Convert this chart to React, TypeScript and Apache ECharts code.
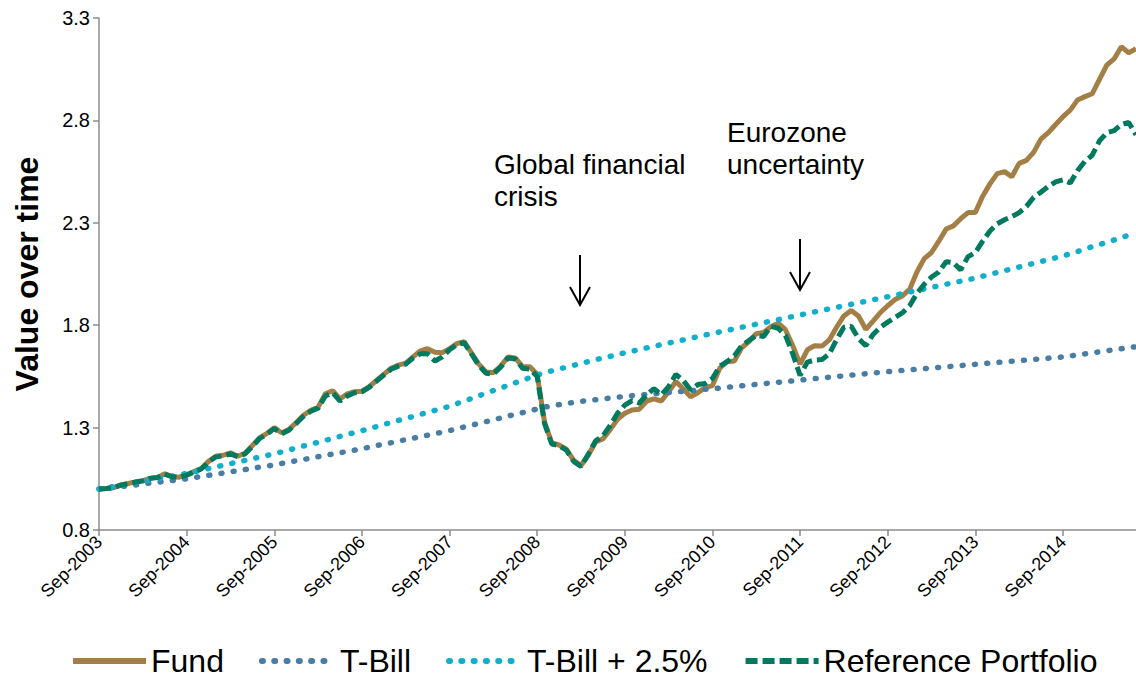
import React, { useEffect, useRef } from 'react';
import * as echarts from 'echarts';

const FONT = '"Liberation Sans", Arial, Helvetica, sans-serif';

const monthNames = ['Jan', 'Feb', 'Mar', 'Apr', 'May', 'Jun', 'Jul', 'Aug', 'Sep', 'Oct', 'Nov', 'Dec'];

const fund = [
  1.000, 1.003, 1.007, 1.020, 1.027, 1.035, 1.040, 1.053, 1.057, 1.075, 1.060, 1.058, 1.070,
  1.085, 1.100, 1.135, 1.160, 1.165, 1.177, 1.160, 1.175, 1.213, 1.250, 1.272, 1.300,
  1.275, 1.290, 1.325, 1.360, 1.385, 1.400, 1.465, 1.480, 1.440, 1.465, 1.475, 1.478,
  1.500, 1.530, 1.560, 1.590, 1.605, 1.615, 1.645, 1.675, 1.685, 1.668, 1.666, 1.685,
  1.710, 1.720, 1.665, 1.610, 1.572, 1.568, 1.600, 1.645, 1.640, 1.598, 1.597, 1.560,
  1.330, 1.225, 1.215, 1.195, 1.140, 1.115, 1.165, 1.230, 1.245, 1.290, 1.340, 1.370,
  1.386, 1.390, 1.430, 1.440, 1.430, 1.475, 1.525, 1.490, 1.450, 1.470, 1.495, 1.505,
  1.590, 1.622, 1.625, 1.690, 1.720, 1.758, 1.765, 1.793, 1.810, 1.778, 1.700, 1.610,
  1.680, 1.700, 1.698, 1.728, 1.790, 1.845, 1.872, 1.845, 1.780, 1.820, 1.862, 1.895,
  1.925, 1.943, 1.975, 2.060, 2.125, 2.155, 2.210, 2.270, 2.285, 2.320, 2.350, 2.350,
  2.430, 2.490, 2.540, 2.550, 2.525, 2.590, 2.605, 2.645, 2.710, 2.740, 2.780, 2.818,
  2.850, 2.900, 2.916, 2.930, 3.000, 3.070, 3.100, 3.160, 3.130, 3.150,
];

const tBill = [
  1.000, 1.004, 1.008, 1.012, 1.016, 1.020, 1.025, 1.029, 1.033, 1.037, 1.041, 1.046, 1.050,
  1.056, 1.061, 1.067, 1.073, 1.078, 1.084, 1.090, 1.095, 1.101, 1.107, 1.112, 1.118,
  1.125, 1.131, 1.138, 1.144, 1.151, 1.158, 1.164, 1.171, 1.177, 1.184, 1.190, 1.197,
  1.204, 1.212, 1.219, 1.226, 1.234, 1.241, 1.248, 1.256, 1.263, 1.270, 1.278, 1.285,
  1.294, 1.303, 1.312, 1.320, 1.329, 1.338, 1.347, 1.356, 1.365, 1.373, 1.382, 1.391,
  1.400, 1.406, 1.412, 1.418, 1.423, 1.428, 1.432, 1.436, 1.440, 1.444, 1.448, 1.453,
  1.456, 1.459, 1.462, 1.465, 1.468, 1.471, 1.474, 1.477, 1.480, 1.483, 1.487, 1.490,
  1.493, 1.497, 1.500, 1.504, 1.507, 1.511, 1.514, 1.518, 1.521, 1.525, 1.528, 1.532,
  1.535, 1.539, 1.542, 1.546, 1.549, 1.553, 1.556, 1.559, 1.563, 1.566, 1.570, 1.573,
  1.576, 1.579, 1.582, 1.585, 1.588, 1.591, 1.594, 1.597, 1.600, 1.603, 1.606, 1.609,
  1.612, 1.615, 1.618, 1.621, 1.624, 1.627, 1.630, 1.633, 1.636, 1.639, 1.642, 1.645,
  1.650, 1.655, 1.660, 1.665, 1.670, 1.675, 1.680, 1.685, 1.690, 1.695,
];

const tBillPlus = [
  1.000, 1.006, 1.012, 1.019, 1.025, 1.031, 1.038, 1.044, 1.050, 1.057, 1.063, 1.070, 1.076,
  1.084, 1.092, 1.100, 1.108, 1.116, 1.124, 1.132, 1.140, 1.148, 1.156, 1.164, 1.172,
  1.181, 1.191, 1.200, 1.210, 1.219, 1.228, 1.238, 1.247, 1.257, 1.266, 1.276, 1.285,
  1.295, 1.305, 1.315, 1.325, 1.335, 1.345, 1.354, 1.364, 1.374, 1.384, 1.394, 1.404,
  1.417, 1.430, 1.442, 1.455, 1.468, 1.481, 1.493, 1.506, 1.519, 1.532, 1.544, 1.557,
  1.567, 1.577, 1.586, 1.595, 1.604, 1.613, 1.622, 1.631, 1.640, 1.648, 1.657, 1.665,
  1.673, 1.681, 1.689, 1.697, 1.705, 1.713, 1.720, 1.728, 1.736, 1.744, 1.752, 1.760,
  1.767, 1.775, 1.782, 1.790, 1.797, 1.805, 1.812, 1.820, 1.827, 1.835, 1.842, 1.850,
  1.857, 1.865, 1.872, 1.880, 1.887, 1.894, 1.902, 1.909, 1.917, 1.924, 1.932, 1.939,
  1.947, 1.954, 1.962, 1.969, 1.977, 1.985, 1.992, 2.000, 2.007, 2.015, 2.022, 2.030,
  2.039, 2.048, 2.057, 2.066, 2.075, 2.084, 2.093, 2.102, 2.111, 2.120, 2.129, 2.138,
  2.149, 2.160, 2.172, 2.183, 2.194, 2.205, 2.216, 2.228, 2.239, 2.250,
];

const reference = [
  1.000, 1.003, 1.007, 1.019, 1.026, 1.034, 1.040, 1.052, 1.056, 1.073, 1.060, 1.058, 1.068,
  1.083, 1.098, 1.132, 1.157, 1.162, 1.172, 1.158, 1.172, 1.208, 1.247, 1.268, 1.295,
  1.270, 1.287, 1.320, 1.355, 1.380, 1.395, 1.455, 1.470, 1.430, 1.455, 1.470, 1.475,
  1.497, 1.527, 1.557, 1.585, 1.600, 1.610, 1.640, 1.660, 1.660, 1.625, 1.645, 1.680,
  1.705, 1.715, 1.660, 1.605, 1.565, 1.562, 1.595, 1.640, 1.635, 1.590, 1.585, 1.550,
  1.320, 1.220, 1.212, 1.190, 1.135, 1.110, 1.170, 1.235, 1.260, 1.310, 1.370, 1.410,
  1.432, 1.420, 1.460, 1.490, 1.460, 1.500, 1.560, 1.530, 1.485, 1.510, 1.515, 1.540,
  1.600, 1.622, 1.650, 1.700, 1.725, 1.750, 1.745, 1.795, 1.785, 1.750, 1.660, 1.555,
  1.620, 1.630, 1.632, 1.660, 1.730, 1.790, 1.795, 1.735, 1.700, 1.755, 1.790, 1.815,
  1.838, 1.860, 1.895, 1.955, 2.000, 2.035, 2.060, 2.110, 2.105, 2.070, 2.135, 2.155,
  2.210, 2.260, 2.295, 2.315, 2.330, 2.350, 2.380, 2.425, 2.450, 2.478, 2.500, 2.510,
  2.495, 2.555, 2.600, 2.630, 2.700, 2.740, 2.750, 2.780, 2.790, 2.730,
];

const startYear = 2003;
const startMonthIndex = 8; // September
const categories: string[] = fund.map((_, i) => {
  const m = startMonthIndex + i;
  return `${monthNames[m % 12]}-${startYear + Math.floor(m / 12)}`;
});

const yTicks = [0.8, 1.3, 1.8, 2.3, 2.8, 3.3];

const legendNames = ['Fund', 'T-Bill', 'T-Bill + 2.5%', 'Reference Portfolio'];

const COLORS = {
  fund: '#A47F45',
  tBill: '#4A7DA3',
  tBillPlus: '#12AECB',
  reference: '#007A5E',
};

export default function App() {
  const ref = useRef<HTMLDivElement>(null);

  useEffect(() => {
    if (!ref.current) return;
    const chart = echarts.init(ref.current, undefined, { renderer: 'svg' });
    const axisColor = '#8c8c8c';
    const dotted = [1, 11.3];
    chart.setOption({
      animation: false,
      textStyle: { fontFamily: FONT },
      grid: { left: 99, right: 0, top: 18, bottom: 148, containLabel: false },
      xAxis: {
        type: 'category',
        data: categories,
        boundaryGap: false,
        axisLine: { lineStyle: { color: axisColor, width: 1.5 } },
        axisTick: { show: true, interval: 11, length: 6, lineStyle: { color: axisColor, width: 1.5 } },
        axisLabel: { interval: 11, rotate: 45, fontSize: 18, color: '#000', margin: 9, fontFamily: FONT },
        splitLine: { show: false },
      },
      yAxis: {
        type: 'value',
        min: 0.8,
        max: 3.3,
        name: 'Value over time',
        nameLocation: 'middle',
        nameGap: 56,
        nameTextStyle: { fontSize: 32, fontWeight: 'bold', color: '#000', fontFamily: FONT },
        axisLine: { show: true, lineStyle: { color: axisColor, width: 1.5 } },
        axisTick: { show: true, length: 6, customValues: yTicks, lineStyle: { color: axisColor, width: 1.5 } },
        axisLabel: {
          customValues: yTicks,
          formatter: (v: number) => v.toFixed(1),
          fontSize: 20,
          color: '#000',
          margin: 9,
          fontFamily: FONT,
        },
        splitLine: { show: false },
      },
      legend: {
        left: 70,
        top: 645,
        padding: 0,
        itemWidth: 73,
        itemHeight: 14,
        itemGap: 35,
        itemStyle: { opacity: 0 },
        lineStyle: { width: 6 },
        textStyle: { fontSize: 32, color: '#000', fontFamily: FONT, lineHeight: 30 },
        data: legendNames,
      },
      series: [
        {
          name: legendNames[0],
          type: 'line',
          data: fund,
          symbol: 'none',
          showSymbol: false,
          silent: true,
          itemStyle: { color: COLORS.fund },
          lineStyle: { color: COLORS.fund, width: 5 },
        },
        {
          name: legendNames[1],
          type: 'line',
          data: tBill,
          symbol: 'none',
          showSymbol: false,
          silent: true,
          itemStyle: { color: COLORS.tBill },
          lineStyle: { color: COLORS.tBill, width: 5.5, type: dotted, cap: 'round' },
        },
        {
          name: legendNames[2],
          type: 'line',
          data: tBillPlus,
          symbol: 'none',
          showSymbol: false,
          silent: true,
          itemStyle: { color: COLORS.tBillPlus },
          lineStyle: { color: COLORS.tBillPlus, width: 5.5, type: dotted, cap: 'round' },
        },
        {
          name: legendNames[3],
          type: 'line',
          data: reference,
          symbol: 'none',
          showSymbol: false,
          silent: true,
          itemStyle: { color: COLORS.reference },
          lineStyle: { color: COLORS.reference, width: 5, type: [12, 5] },
        },
      ],
      graphic: [
        {
          type: 'text',
          left: 494,
          top: 148,
          style: { text: 'Global financial\ncrisis', fontSize: 28, fontFamily: FONT, fill: '#000', lineHeight: 32 },
        },
        {
          type: 'text',
          left: 727,
          top: 116,
          style: { text: 'Eurozone\nuncertainty', fontSize: 28, fontFamily: FONT, fill: '#000', lineHeight: 32 },
        },
        { type: 'line', shape: { x1: 580, y1: 255, x2: 580, y2: 305 }, style: { stroke: '#000', lineWidth: 2 } },
        {
          type: 'polyline',
          shape: { points: [[570, 287], [580, 305], [590, 287]] },
          style: { stroke: '#000', lineWidth: 2, fill: null },
        },
        { type: 'line', shape: { x1: 800, y1: 239, x2: 800, y2: 290 }, style: { stroke: '#000', lineWidth: 2 } },
        {
          type: 'polyline',
          shape: { points: [[790, 272], [800, 290], [810, 272]] },
          style: { stroke: '#000', lineWidth: 2, fill: null },
        },
      ],
    });
    return () => chart.dispose();
  }, []);

  return (
    <div
      ref={ref}
      style={{ position: 'absolute', left: 0, top: 0, width: 1136, height: 678, background: '#fff' }}
    />
  );
}
